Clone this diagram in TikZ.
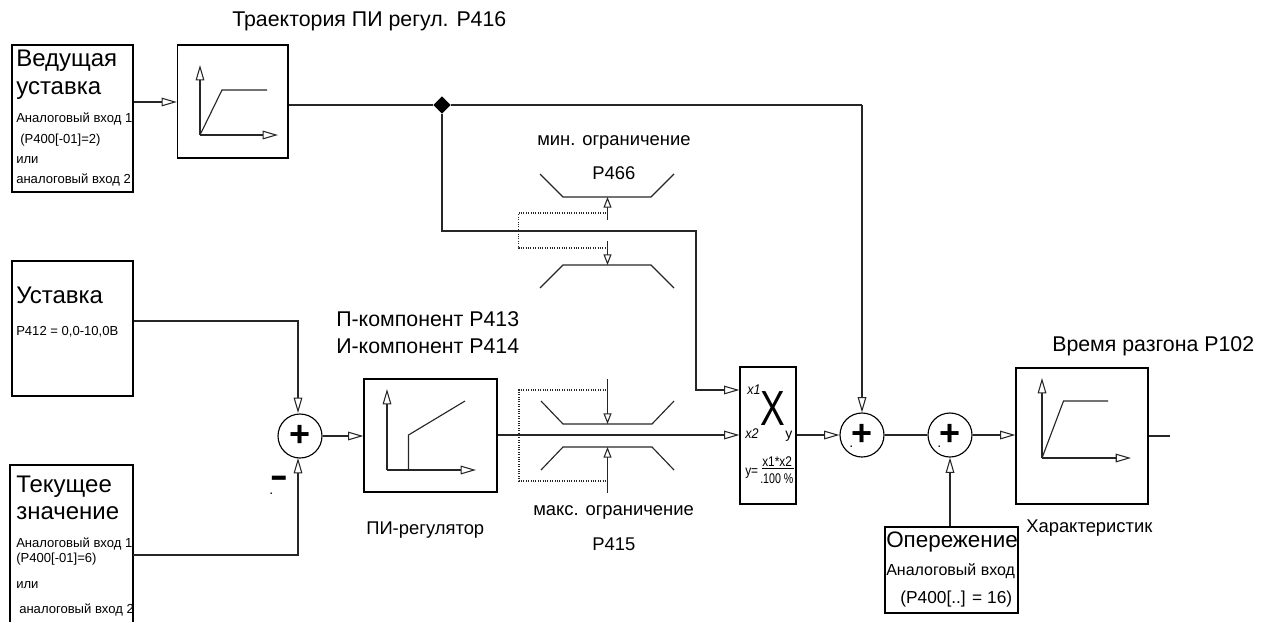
\documentclass[tikz,border=0pt]{standalone}
\usepackage{fontspec}
\setmainfont{Liberation Sans}
\usetikzlibrary{arrows.meta,shapes.geometric}
\newcommand{\fsz}[1]{\fontsize{#1}{#1}\selectfont}
\tikzset{
  x=.75pt,y=-.75pt,
  wire/.style={line width=.85pt,black!85},
  arr/.style={wire,-{Triangle[open,fill=white,length=11.5pt,width=6.5pt,line width=.8pt]}},
  arrs/.style={wire,-{Triangle[open,fill=white,length=8pt,width=6pt,line width=.8pt]}},
  axis/.style={wire,-{Triangle[open,fill=white,length=11.5pt,width=6.5pt,line width=.8pt]}},
  box/.style={draw,line width=1pt,inner sep=0,fill=none},
  sumc/.style={circle,draw,line width=.85pt,minimum size=33pt,inner sep=0,fill=white},
  dots/.style={line width=.8pt,densely dotted,black!85},
  big/.style={inner sep=0,anchor=base west,font=\fsz{18}},
  mid/.style={inner sep=0,anchor=base west,font=\fsz{16}},
  lab/.style={inner sep=0,anchor=base west,font=\fsz{13.8}},
  small/.style={inner sep=0,anchor=base west,font=\fsz{9.8}},
  tiny/.style={inner sep=0,anchor=base west,font=\fsz{10.5}}
}
\newcommand{\bx}[5]{\node[box,minimum width={(#4-#2)*.75pt},minimum height={(#5-#3)*.75pt}] (#1) at ({(#2+#4)/2},{(#3+#5)/2}) {};}
\newcommand{\plusc}[3]{\node[sumc] (#1) at (#2,#3) {};\node[inner sep=0,font=\fsz{27}\bfseries] (#1p) at (#1.center) {+};}
\begin{document}
\begin{tikzpicture}
\useasboundingbox (0,0) rectangle (1269,622);
% boxes
\bx{ved}{12}{45}{133}{192}
\bx{traj}{177.5}{45}{288}{158}
\bx{ust}{12}{261}{133}{396}
\coordinate (cur) at (133,555);
\draw[box] (10,622) -- (10,465) -- (133,465) -- (133,622);
\bx{pi}{364}{379}{497}{492}
\bx{mult}{740}{367}{796}{504}
\bx{oper}{885}{527}{1018}{613}
\bx{ramp}{1016}{368}{1148}{504}
\plusc{s1}{300}{436}
\plusc{s2}{862}{435}
\plusc{s3}{950}{435}
\node[diamond,fill=black,inner sep=0,minimum size=13pt] (split) at (442,105) {};
\coordinate (outend) at (1170,436);
\coordinate (bendA) at (862,105);
% connectors
\draw[arr] (ved.east |- 0,102) -- (traj.west |- 0,102);
\draw[wire] (traj.east |- split) -- (split);
\draw[wire] (split) -- (bendA);
\draw[arr] (bendA) -- (s2.north);
\draw[arr] (split) -- (442,231) -- (696,231) -- (696,390) -- (mult.west |- 0,390);
\draw[arr] (pi.east |- 0,435) -- (mult.west |- 0,435);
\draw[arr] (mult.east |- s2) -- (s2.west);
\draw[wire] (s2.east) -- (s3.west);
\draw[arr] (s3.east) -- (ramp.west |- s3);
\draw[wire] (ramp.east |- outend) -- (outend);
\draw[arr] (oper.north -| s3) -- (s3.south);
\draw[arr] (ust.east |- 0,321) -- (298,321) -- (298,413);
\draw[arr] (cur) -- (298,555) -- (298,458);
\draw[arr] (s1.east) -- (pi.west |- s1);
% traj curve
\draw[axis] (200,135) -- (200,65);
\draw[axis] (200,135) -- (278,135);
\draw[wire] (200,135) -- (222,90) -- (267,90);
% ramp curve
\draw[axis] (1042,458) -- (1042,378);
\draw[axis] (1042,458) -- (1131,458);
\draw[wire] (1042,458) -- (1063.5,401) -- (1108,401);
% PI curve
\draw[axis] (387,470) -- (387,389);
\draw[axis] (387,470) -- (476,470);
\draw[wire] (408.5,470) -- (408.5,435) -- (465,401);
% limiters top
\draw[wire] (540,174) -- (563,197) -- (651,197) -- (674,174);
\draw[wire] (540,288) -- (563,265) -- (651,265) -- (674,288);
\draw[arrs] (607.5,220) -- (607.5,197);
\draw[arrs] (607.5,241) -- (607.5,265);
\draw[dots] (606,213) -- (518.5,213) -- (518.5,248) -- (606,248);
% limiters bottom
\draw[wire] (541,401) -- (563,424) -- (652,424) -- (674,401);
\draw[wire] (541,470) -- (563,447) -- (652,447) -- (674,470);
\draw[arrs] (607.5,379) -- (607.5,424);
\draw[arrs] (607.5,493) -- (607.5,447);
\draw[dots] (606,390) -- (519,390) -- (519,481) -- (606,481);
% texts
\node[big] (t1) at (16,66) {Ведущая};
\node[big] (t2) at (16,94) {уставка};
\node[small] (t3) at (16,122) {Аналоговый вход 1};
\node[small] (t4) at (20,143) {(P400[-01]=2)};
\node[small] (t5) at (16,163) {или};
\node[small] (t6) at (16,183) {аналоговый вход 2};
\node[big] (t7) at (16,303) {Уставка};
\node[small] (t8) at (16,335) {P412 = 0,0-10,0В};
\node[big] (t9) at (16,492) {Текущее};
\node[big] (t10) at (16,519) {значение};
\node[small] (t11) at (16,547) {Аналоговый вход 1};
\node[small] (t12) at (16,562) {(P400[-01]=6)};
\node[small] (t13) at (16,588) {или};
\node[small] (t14) at (19,613) {аналоговый вход 2};
\node[mid] (t15) at (232,26) {Траектория ПИ регул. P416};
\node[mid] (t16) at (336,326) {П-компонент P413};
\node[mid] (t17) at (336,353) {И-компонент P414};
\node[lab] (t18) at (366,534) {ПИ-регулятор};
\node[lab] (t19) at (537,145) {мин. ограничение};
\node[lab] (t20) at (592,179) {P466};
\node[lab] (t21) at (533,515) {макс. ограничение};
\node[lab] (t22) at (592,550) {P415};
\node[mid] (t23) at (1052,351) {Время разгона P102};
\node[lab] (t24) at (1026,532) {Характеристик};
\node[inner sep=0,anchor=base west,font=\fsz{16.8}] (t25) at (886,547) {Опережение};
\node[inner sep=0,anchor=base west,font=\fsz{12}] (t26) at (886,575) {Аналоговый вход};
\node[inner sep=0,anchor=base west,font=\fsz{13}] (t27) at (900,603) {(P400[..] = 16)};
% minus and dots
\node[inner sep=0,font=\fsz{21}\bfseries] (minus) at (279.5,483) {\scalebox{1}[1.5]{–}};
\node[tiny] (d1) at (269,494) {.};
\node[tiny] (d2) at (849,447) {.};
\node[tiny] (d3) at (937,447) {.};
% multiplier text
\node[tiny] (x1) at (747,394) {\scalebox{.9}[1]{\itshape x1}};
\node[tiny] (x2) at (745,438) {\scalebox{.9}[1]{\itshape x2}};
\node[tiny] (yy) at (785,438) {y};
\node[inner sep=0,anchor=base west,font=\fsz{37}] (bigx) at (760,425) {\scalebox{.75}[1]{X}};
\node[tiny] (f1) at (745,475) {\scalebox{.85}[1]{y=}};
\node[tiny] (f2) at (762,466) {\scalebox{.85}[1]{x1*x2}};
\node[tiny] (f3) at (760,483) {\scalebox{.76}[1]{.100 \%}};
\draw[line width=.6pt] (f2.south west |- 0,468) -- (794,468);
\end{tikzpicture}
\end{document}
